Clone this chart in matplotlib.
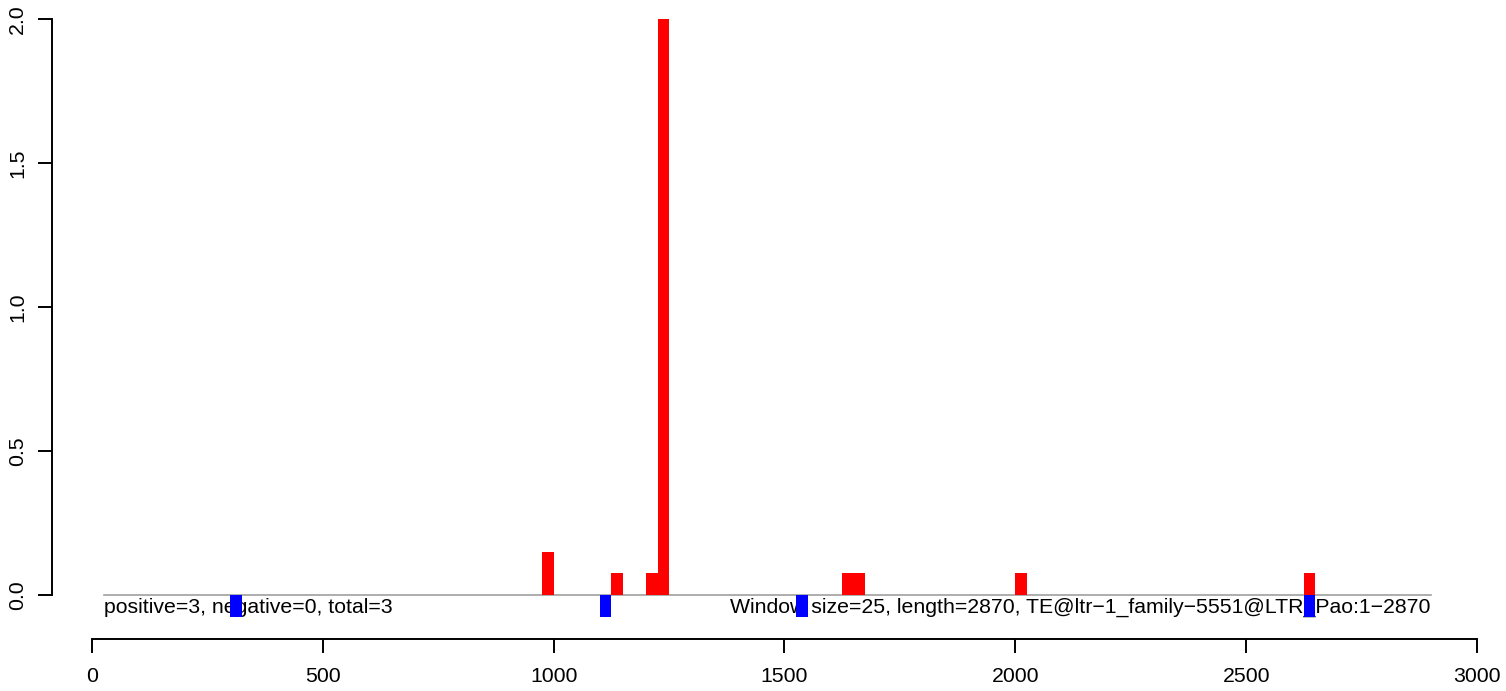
import matplotlib
matplotlib.use('Agg')
import matplotlib.pyplot as plt

# window starts (bp) and scores; window size 25
pos_starts = [975, 1125, 1200, 1225, 1625, 1650, 2000, 2625]
pos_values = [0.15, 0.075, 0.075, 2.0, 0.075, 0.075, 0.075, 0.075]
neg_starts = [300, 1100, 1525, 2625]
neg_values = [-0.075, -0.075, -0.075, -0.075]
window = 25
seq_start, seq_end = 25, 2900
x_ticks = [0, 500, 1000, 1500, 2000, 2500, 3000]
y_ticks = [0.0, 0.5, 1.0, 1.5, 2.0]
left_label = 'positive=3, negative=0, total=3'
right_label = 'Window size=25, length=2870, TE@ltr\u22121_family\u22125551@LTR_Pao:1\u22122870'

plt.rcParams['font.family'] = ['Liberation Sans', 'DejaVu Sans']

W, H = 1506, 691
fig = plt.figure(figsize=(W / 100, H / 100), dpi=100)
# axes box in pixels: left 52, right 1490, top 5, bottom 639
ax = fig.add_axes([52 / W, (H - 639) / H, (1490 - 52) / W, (639 - 5) / H])

px_per_x = (1477 - 92) / 3000
px_per_y = (595 - 19) / 2.0
ax.set_xlim(-(92 - 52) / px_per_x, (1490 - 92) / px_per_x)
ax.set_ylim(-(639 - 595) / px_per_y, 2.0 + (19 - 5) / px_per_y)

ax.plot([seq_start, seq_end], [0, 0], color='#a0a0a0', lw=1.2, zorder=1)
ax.text(seq_start, -0.043, left_label, ha='left', va='center', fontsize=15.3, zorder=2)
ax.text(seq_end, -0.043, right_label, ha='right', va='center', fontsize=15.3, zorder=2)

ax.bar(pos_starts, pos_values, width=window, align='edge', color='red', lw=0, zorder=3)
ax.bar(neg_starts, neg_values, width=window, align='edge', color='blue', lw=0, zorder=3)

for s in ['top', 'right']:
    ax.spines[s].set_visible(False)
for s in ['bottom', 'left']:
    ax.spines[s].set_linewidth(1.4)
ax.spines['bottom'].set_bounds(0, 3000)
ax.spines['left'].set_bounds(0, 2)
ax.set_xticks(x_ticks)
ax.set_xticklabels([str(t) for t in x_ticks])
ax.set_yticks(y_ticks)
ax.set_yticklabels([f'{t:.1f}' for t in y_ticks], rotation=90, va='center')
ax.tick_params(direction='out', length=10, width=1.4, labelsize=15.3, pad=10)
ax.tick_params(axis='y', pad=8)

fig.savefig('out.png', dpi=100)
